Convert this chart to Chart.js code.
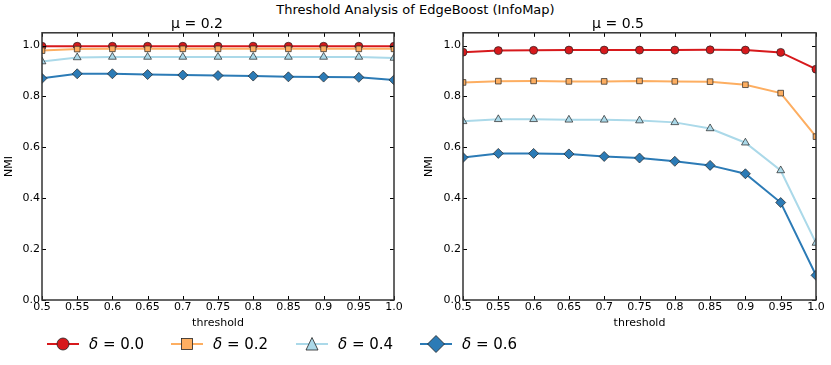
<!DOCTYPE html>
<html>
<head>
<meta charset="utf-8">
<script src="https://cdn.jsdelivr.net/npm/chart.js@4"></script>
<style>
  body { margin: 0; background: #fff; font-family: "DejaVu Sans", sans-serif; }
  #wrap { position: relative; width: 831px; height: 365px; }
  #title { position: absolute; top: 2px; left: 0; width: 831px; text-align: center; font-size: 13px; color: #000; }
  .box { position: absolute; top: 0; height: 335px; }
  #legend { position: absolute; top: 332px; left: 0; width: 831px; height: 24px; }
  .item { position: absolute; top: 0; height: 24px; }
  .item svg { position: absolute; top: 0; left: 0; }
  .item span { position: absolute; top: 2px; font-size: 15px; line-height: 20px; white-space: nowrap; color: #000; }
</style>
</head>
<body>
<div id="wrap">
  <div id="title">Threshold Analysis of EdgeBoost (InfoMap)</div>
  <div class="box" style="left:0;width:410px"><canvas id="left"></canvas></div>
  <div class="box" style="left:420px;width:411px"><canvas id="right"></canvas></div>
  <div id="legend"></div>
</div>
<script>
const thresholds = [0.5, 0.55, 0.6, 0.65, 0.7, 0.75, 0.8, 0.85, 0.9, 0.95, 1.0];
const xTickLabels = ['0.5', '0.55', '0.6', '0.65', '0.7', '0.75', '0.8', '0.85', '0.9', '0.95', '1.0'];
const yTicks = [0.0, 0.2, 0.4, 0.6, 0.8, 1.0];
const deltas = ['0.0', '0.2', '0.4', '0.6'];

// mu = 0.2
const mu02_d00 = [0.997, 0.997, 0.997, 0.997, 0.997, 0.997, 0.997, 0.997, 0.997, 0.997, 0.997];
const mu02_d02 = [0.980, 0.986, 0.987, 0.987, 0.987, 0.987, 0.987, 0.987, 0.987, 0.987, 0.987];
const mu02_d04 = [0.937, 0.953, 0.955, 0.955, 0.955, 0.955, 0.955, 0.955, 0.955, 0.955, 0.951];
const mu02_d06 = [0.871, 0.889, 0.889, 0.886, 0.884, 0.882, 0.880, 0.877, 0.876, 0.875, 0.865];

// mu = 0.5
const mu05_d00 = [0.974, 0.980, 0.981, 0.982, 0.982, 0.982, 0.982, 0.983, 0.982, 0.973, 0.907];
const mu05_d02 = [0.855, 0.860, 0.861, 0.859, 0.859, 0.861, 0.859, 0.858, 0.846, 0.813, 0.642];
const mu05_d04 = [0.702, 0.710, 0.710, 0.708, 0.708, 0.705, 0.698, 0.674, 0.618, 0.509, 0.224];
const mu05_d06 = [0.560, 0.576, 0.576, 0.574, 0.564, 0.558, 0.545, 0.529, 0.496, 0.383, 0.097];

const colors = ['#d7191c', '#fdae61', '#abd9e9', '#2c7bb6'];
const markers = ['circle', 'rect', 'triangle', 'rectRot'];
const sizes = [4, 4, 4.5, 5];

function makeDatasets(series) {
  return series.map((vals, i) => ({
    label: 'δ = ' + deltas[i],
    data: vals.map((v, j) => ({ x: thresholds[j], y: v })),
    borderColor: colors[i],
    backgroundColor: colors[i],
    borderWidth: 2,
    pointStyle: markers[i],
    pointRadius: sizes[i],
    pointBorderColor: '#222',
    pointBorderWidth: 0.7,
    tension: 0,
    clip: 0,
    order: series.length - 1 - i   // later series drawn on top, as in matplotlib
  }));
}

// matplotlib-style inward ticks on all four sides
const innerTicks = {
  id: 'innerTicks',
  afterDraw(chart) {
    const { ctx, chartArea: a, scales } = chart;
    ctx.save();
    ctx.strokeStyle = '#000';
    ctx.lineWidth = 1;
    ctx.beginPath();
    thresholds.forEach(t => {
      const px = Math.round(scales.x.getPixelForValue(t)) + 0.5;
      ctx.moveTo(px, a.bottom); ctx.lineTo(px, a.bottom - 4);
      ctx.moveTo(px, a.top); ctx.lineTo(px, a.top + 4);
    });
    yTicks.forEach(t => {
      const py = Math.round(scales.y.getPixelForValue(t)) + 0.5;
      ctx.moveTo(a.left, py); ctx.lineTo(a.left + 4, py);
      ctx.moveTo(a.right, py); ctx.lineTo(a.right - 4, py);
    });
    ctx.stroke();
    ctx.strokeStyle = '#333';
    ctx.lineWidth = 1.5;
    ctx.strokeRect(a.left, a.top, a.right - a.left, a.bottom - a.top);
    ctx.restore();
  }
};

function makeChart(id, title, series, yWidth, rightPad) {
  return new Chart(document.getElementById(id), {
    type: 'line',
    data: { datasets: makeDatasets(series) },
    plugins: [innerTicks],
    options: {
      responsive: true,
      maintainAspectRatio: false,
      animation: false,
      layout: { padding: { right: rightPad, top: 0, bottom: 0, left: 0 } },
      plugins: {
        legend: { display: false },
        tooltip: { enabled: false },
        title: {
          display: true,
          text: title,
          color: '#000',
          font: { family: 'DejaVu Sans', size: 14, weight: 'normal' },
          padding: { top: 16, bottom: 0 }
        }
      },
      scales: {
        x: {
          type: 'linear',
          min: 0.5,
          max: 1.0,
          afterBuildTicks: s => { s.ticks = thresholds.map(v => ({ value: v })); },
          afterFit: s => { s.height = 35; },
          ticks: {
            color: '#000',
            padding: 1,
            maxRotation: 0,
            autoSkip: false,
            font: { family: 'DejaVu Sans', size: 11 },
            callback: (v, i) => xTickLabels[i]
          },
          grid: { display: false, drawTicks: false },
          border: { display: false },
          title: {
            display: true,
            text: 'threshold',
            color: '#000',
            font: { family: 'DejaVu Sans', size: 11 },
            padding: { top: 0, bottom: 5 }
          }
        },
        y: {
          min: 0,
          max: 1.05,
          afterBuildTicks: s => { s.ticks = yTicks.map(v => ({ value: v })); },
          afterFit: s => { s.width = yWidth; },
          ticks: {
            color: '#000',
            padding: 2,
            font: { family: 'DejaVu Sans', size: 11 },
            callback: v => v.toFixed(1)
          },
          grid: { display: false, drawTicks: false },
          border: { display: false },
          title: {
            display: true,
            text: 'NMI',
            color: '#000',
            font: { family: 'DejaVu Sans', size: 11 },
            padding: { top: 3, bottom: 0 }
          }
        }
      }
    }
  });
}

makeChart('left', 'μ = 0.2', [mu02_d00, mu02_d02, mu02_d04, mu02_d06], 42, 16);
makeChart('right', 'μ = 0.5', [mu05_d00, mu05_d02, mu05_d04, mu05_d06], 43, 15);

// legend along the bottom: marker centres near 63, 187, 312, 436
const legendX = [47, 171, 296, 420];
const legend = document.getElementById('legend');
function markerSvg(i) {
  const c = colors[i];
  let shape = '';
  if (markers[i] === 'circle') shape = `<circle cx="16" cy="12" r="6" fill="${c}" stroke="#222" stroke-width="0.8"/>`;
  if (markers[i] === 'rect') shape = `<rect x="10.5" y="6.5" width="11" height="11" fill="${c}" stroke="#222" stroke-width="0.8"/>`;
  if (markers[i] === 'triangle') shape = `<polygon points="16,5.5 22,18 10,18" fill="${c}" stroke="#222" stroke-width="0.8"/>`;
  if (markers[i] === 'rectRot') shape = `<polygon points="16,3.5 24.5,12 16,20.5 7.5,12" fill="${c}" stroke="#222" stroke-width="0.8"/>`;
  return `<svg width="32" height="24"><line x1="0" y1="12" x2="32" y2="12" stroke="${c}" stroke-width="2"/>${shape}</svg>`;
}
deltas.forEach((d, i) => {
  const el = document.createElement('div');
  el.className = 'item';
  el.style.left = legendX[i] + 'px';
  el.innerHTML = markerSvg(i) + `<span style="left:42px"><i>δ</i> = ${d}</span>`;
  legend.appendChild(el);
});
</script>
</body>
</html>
